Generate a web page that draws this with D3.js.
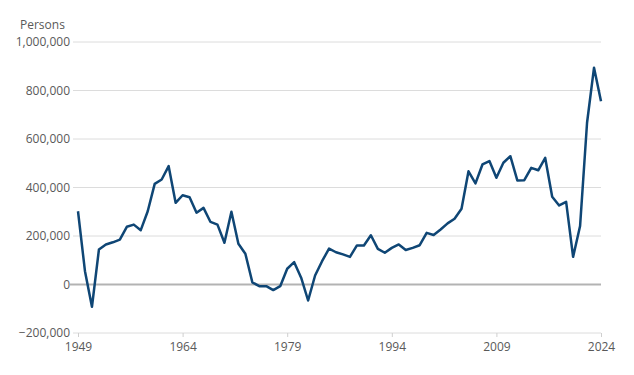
<!DOCTYPE html>
<html>
<head>
<meta charset="utf-8">
<script src="https://cdn.jsdelivr.net/npm/d3@7"></script>
<style>
  body { margin: 0; background: #fff; }
  text { font-family: "Open Sans", "Noto Sans", sans-serif; }
</style>
</head>
<body>
<div id="chart"></div>
<script>
const years = d3.range(1949, 2025);
const values = [
  302000, 55000, -92000, 144000, 165000, 174000, 185000, 238000, 247000, 224000,
  302000, 415000, 433000, 488000, 337000, 368000, 360000, 296000, 316000, 258000,
  247000, 172000, 300000, 168000, 127000, 9000, -7000, -7000, -23000, -7000,
  65000, 92000, 28000, -66000, 37000, 96000, 148000, 133000, 124000, 114000,
  161000, 161000, 203000, 147000, 131000, 151000, 165000, 142000, 151000, 162000,
  213000, 204000, 227000, 252000, 271000, 312000, 467000, 417000, 495000, 509000,
  440000, 502000, 529000, 429000, 430000, 481000, 471000, 522000, 362000, 326000,
  341000, 114000, 241000, 667000, 894000, 756000
];
const yTicks = [-200000, 0, 200000, 400000, 600000, 800000, 1000000];
const xTicks = [1949, 1964, 1979, 1994, 2009, 2024];
const yLabel = "Persons";

const W = 634, H = 375;
const m = {top: 42, right: 33, bottom: 42, left: 78};
const svg = d3.select("#chart").append("svg").attr("width", W).attr("height", H);

const x = d3.scaleLinear().domain([1949, 2024]).range([m.left, W - m.right]);
const y = d3.scaleLinear().domain([-200000, 1000000]).range([H - m.bottom, m.top]);
const fmt = d3.format(",");

// gridlines
svg.append("g").selectAll("line").data(yTicks.filter(d => d !== 0)).join("line")
  .attr("x1", 73).attr("x2", W - m.right)
  .attr("y1", d => y(d)).attr("y2", d => y(d))
  .attr("stroke", "#dcdcdc").attr("stroke-width", 1);

// y labels
svg.append("g").selectAll("text").data(yTicks).join("text")
  .attr("x", 70).attr("y", d => y(d)).attr("dy", "0.35em")
  .attr("text-anchor", "end").attr("font-size", 12).attr("fill", "#595959")
  .text(d => fmt(d));

svg.append("text").attr("x", 20).attr("y", 29).attr("font-size", 12)
  .attr("fill", "#595959").text(yLabel);

// x axis ticks
const xa = svg.append("g").attr("transform", `translate(0,${y(-200000)})`)
  .call(d3.axisBottom(x).tickValues(xTicks).tickFormat(d3.format("d")).tickSize(4).tickSizeOuter(0));
xa.select(".domain").remove();
xa.selectAll(".tick line").attr("stroke", "#cfcfcf");
xa.selectAll(".tick text").attr("font-size", 12).attr("fill", "#595959")
  .attr("font-family", "'Open Sans', 'Noto Sans', sans-serif").attr("dy", "0.9em");

// zero line
svg.append("line").attr("x1", 70).attr("x2", W - m.right)
  .attr("y1", y(0)).attr("y2", y(0))
  .attr("stroke", "#b3b3b3").attr("stroke-width", 2);

// series line
const data = years.map((yr, i) => ({yr, v: values[i]}));
svg.append("path").datum(data)
  .attr("fill", "none").attr("stroke", "#0f4675").attr("stroke-width", 2.5)
  .attr("stroke-linejoin", "round")
  .attr("d", d3.line().x(d => x(d.yr)).y(d => y(d.v)));
</script>
</body>
</html>
